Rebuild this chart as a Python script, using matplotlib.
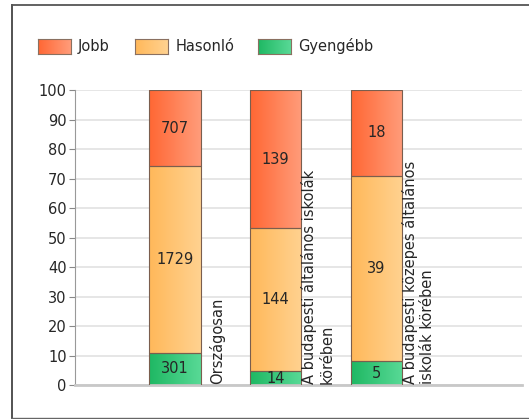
import numpy as np
import matplotlib
matplotlib.use('Agg')
import matplotlib.pyplot as plt
from matplotlib.colors import LinearSegmentedColormap
from matplotlib.lines import Line2D

categories = ['Országosan',
              'A budapesti általános iskolák\nkörében',
              'A budapesti közepes általános\niskolák körében']
series = ['Gyengébb', 'Hasonló', 'Jobb']
gyengebb = [301, 14, 5]
hasonlo = [1729, 144, 39]
jobb = [707, 139, 18]
yticks = list(range(0, 101, 10))

grads = {'Jobb': ('#ff6734', '#ff9c7a'),
         'Hasonló': ('#ffb85a', '#ffd290'),
         'Gyengébb': ('#1fb863', '#58d996')}

plt.rcParams['font.family'] = 'DejaVu Sans'
fig = plt.figure(figsize=(5.29, 4.19), dpi=100)
ax = fig.add_axes([0.1418, 0.0811, 0.845, 0.704])

counts = np.array([gyengebb, hasonlo, jobb], dtype=float)
pct = counts / counts.sum(axis=0) * 100
x = np.arange(len(categories))
bottom = np.zeros(len(categories))
for name, vals, raw in zip(series, pct, counts):
    bars = ax.bar(x, vals, width=0.51, bottom=bottom, color='none',
                  edgecolor='#7a5e4e', linewidth=0.8, zorder=3)
    cmap = LinearSegmentedColormap.from_list(name, grads[name])
    grad = np.linspace(0, 1, 64).reshape(1, -1)
    for b, v, r, b0 in zip(bars, vals, raw, bottom):
        x0, y0 = b.get_x(), b.get_y()
        im = ax.imshow(grad, cmap=cmap, aspect='auto', zorder=2,
                       extent=[x0, x0 + b.get_width(), y0, y0 + b.get_height()])
        im.set_clip_path(b)
        ax.text(b.get_x() + b.get_width() / 2, b0 + v / 2, f'{int(r)}',
                ha='center', va='center', fontsize=10.5, color='#262626', zorder=4)
    bottom += vals

for i, lab in enumerate(categories):
    ax.text(i + 0.42, 0.003, lab, rotation=90, ha='center', va='bottom',
            multialignment='left', fontsize=10.5, color='#262626',
            transform=ax.get_xaxis_transform(), zorder=4)

ax.set_xlim(-0.995, 3.45)
ax.set_ylim(0, 100)
ax.set_yticks(yticks)
ax.set_xticks([])
ax.tick_params(axis='y', labelsize=10.5, length=4, color='#888888', labelcolor='#262626', pad=2)
ax.grid(axis='y', color='#e2e2e2', linewidth=1.2, zorder=0)
ax.set_axisbelow(True)
for s in ['top', 'right']:
    ax.spines[s].set_visible(False)
ax.spines['left'].set_color('#999999')
ax.spines['bottom'].set_color('#c8c8c8')
ax.spines['bottom'].set_linewidth(2)

# legend
W, H = 529.0, 419.0
leg = [('Jobb', 38, 78), ('Hasonló', 135, 176), ('Gyengébb', 258, 298)]
for name, sx, tx in leg:
    cmap = LinearSegmentedColormap.from_list(name, grads[name])
    lax = fig.add_axes([sx / W, 1 - 54 / H, 33 / W, 15 / H])
    lax.imshow(np.linspace(0, 1, 64).reshape(1, -1), cmap=cmap, aspect='auto')
    lax.set_xticks([]); lax.set_yticks([])
    for sp in lax.spines.values():
        sp.set_color('#8a7060'); sp.set_linewidth(0.8)
    fig.text(tx / W, 1 - 46.5 / H, name, ha='left', va='center',
             fontsize=10.5, color='#262626')

# outer frame
fig.add_artist(Line2D([11.5 / W, 11.5 / W], [1 - 5 / H, 1 - 417.5 / H], color='#444444', lw=1.3))
fig.add_artist(Line2D([11.5 / W, 1.0], [1 - 5 / H, 1 - 5 / H], color='#555555', lw=1.3))
fig.add_artist(Line2D([11.5 / W, 1.0], [1 - 417.5 / H, 1 - 417.5 / H], color='#666666', lw=1.0))

fig.savefig('out.png', dpi=100)
